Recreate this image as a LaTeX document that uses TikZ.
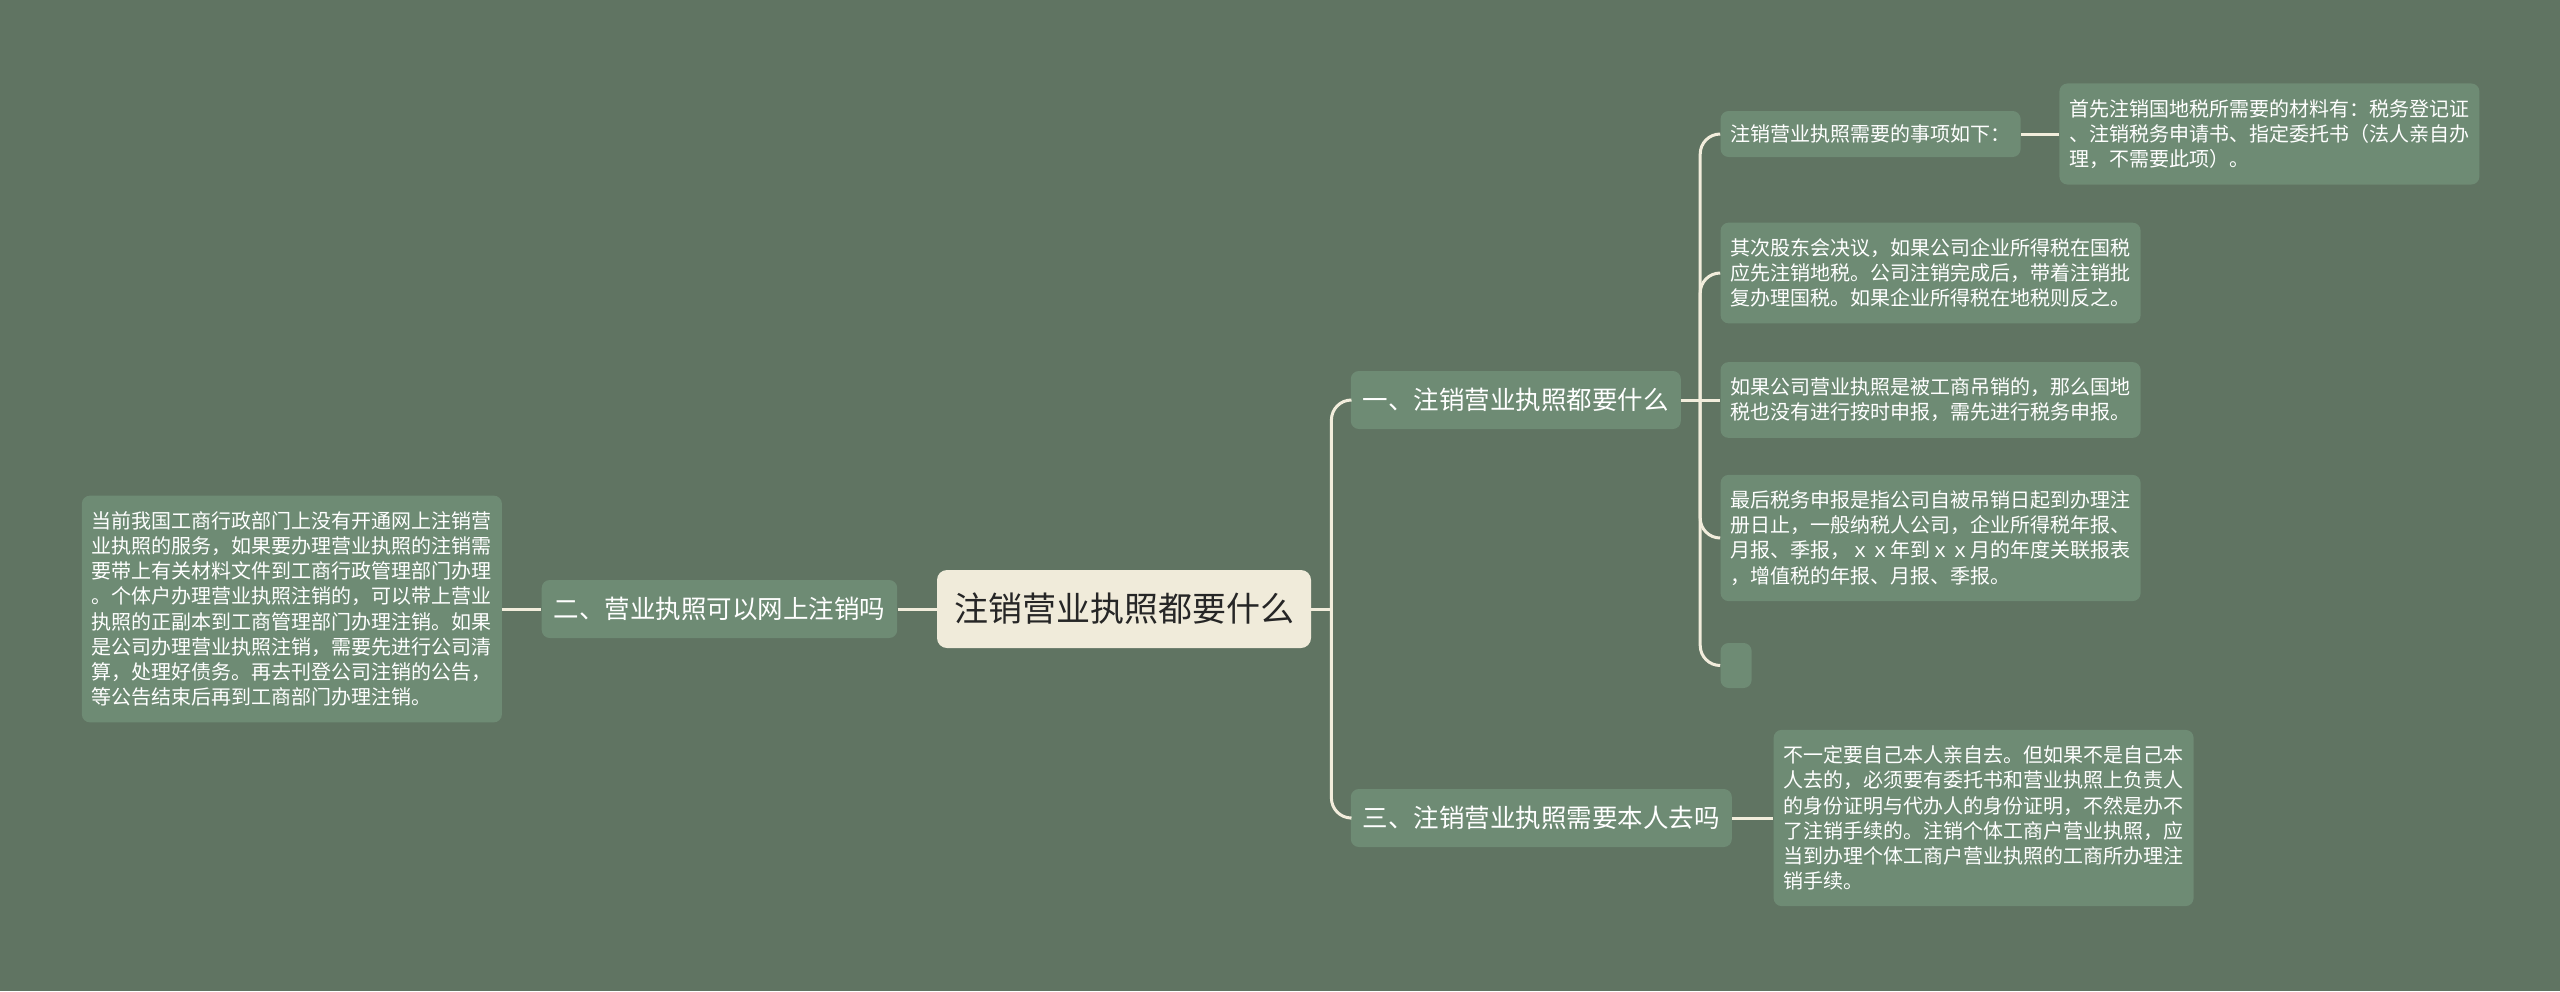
\documentclass[tikz,border=0pt]{standalone}
\usepackage{fontspec}
\setmainfont{Noto Sans CJK SC}
\usetikzlibrary{positioning}
\usepackage{xcolor}
\definecolor{bgcol}{HTML}{607462}
\definecolor{nodecol}{HTML}{6E8B74}
\definecolor{rootcol}{HTML}{F0EBDA}
\definecolor{linecol}{HTML}{F2EDDC}

\begin{document}
\begin{tikzpicture}[
    node distance=19.5pt,
    mainbox/.style={rectangle, rounded corners=5pt, fill=rootcol, text=black!85, font=\fontsize{17}{20}\selectfont, minimum width=187pt, minimum height=39pt, inner sep=0pt},
    topic/.style={rectangle, rounded corners=4pt, fill=nodecol, text=white, font=\fontsize{12.75}{15}\selectfont, minimum height=29pt, inner xsep=6pt, inner ysep=0pt},
    note/.style={rectangle, rounded corners=4pt, fill=nodecol, text=white, font=\fontsize{10}{12.6}\selectfont, align=left, inner xsep=5pt, inner ysep=7.9pt},
    link/.style={draw=linecol, line width=1.5pt, rounded corners=10pt}
]

% background and page size
\fill[bgcol] (0,0) rectangle (1280pt,-495.5pt);
\useasboundingbox (0,0) rectangle (1280pt,-495.5pt);

\node (main) [mainbox] at (562pt,-304.5pt) {注销营业执照都要什么};
\node (two) [topic, left=of main] {二、营业执照可以网上注销吗};
\node (online) [note, left=of two] {当前我国工商行政部门上没有开通网上注销营\\业执照的服务，如果要办理营业执照的注销需\\要带上有关材料文件到工商行政管理部门办理\\。个体户办理营业执照注销的，可以带上营业\\执照的正副本到工商管理部门办理注销。如果\\是公司办理营业执照注销，需要先进行公司清\\算，处理好债务。再去刊登公司注销的公告，\\等公告结束后再到工商部门办理注销。};
\node (one) [topic, right=of main, yshift=104.5pt] {一、注销营业执照都要什么};
\node (three) [topic, right=of main, yshift=-104.5pt] {三、注销营业执照需要本人去吗};
\node (inperson) [note, right=20.5pt of three] {不一定要自己本人亲自去。但如果不是自己本\\人去的，必须要有委托书和营业执照上负责人\\的身份证明与代办人的身份证明，不然是办不\\了注销手续的。注销个体工商户营业执照，应\\当到办理个体工商户营业执照的工商所办理注\\销手续。};

\node (need) [note, right=of one, yshift=133pt, minimum height=23pt, inner ysep=0pt] {注销营业执照需要的事项如下：};
\node (needdetail) [note, right=19pt of need] {首先注销国地税所需要的材料有：税务登记证\\、注销税务申请书、指定委托书（法人亲自办\\理，不需要此项）。};
\node (resolve) [note, right=of one, yshift=63.5pt] {其次股东会决议，如果公司企业所得税在国税\\应先注销地税。公司注销完成后，带着注销批\\复办理国税。如果企业所得税在地税则反之。};
\node (revoked) [note, right=of one] {如果公司营业执照是被工商吊销的，那么国地\\税也没有进行按时申报，需先进行税务申报。};
\node (finaltax) [note, right=of one, yshift=-69pt] {最后税务申报是指公司自被吊销日起到办理注\\册日止，一般纳税人公司，企业所得税年报、\\月报、季报，ｘｘ年到ｘｘ月的年度关联报表\\，增值税的年报、月报、季报。};
\node (blank) [note, right=of one, yshift=-132.75pt, minimum width=15.5pt, minimum height=22.5pt, inner sep=0pt] {};

% Connectors
\coordinate (mainfork) at ([xshift=10pt]main.east);
\coordinate (onefork) at ([xshift=9.5pt]one.east);
\draw[link] (online) -- (two);
\draw[link] (two) -- (main);
\draw[link] (main.east) -- (mainfork);
\draw[link] (mainfork) |- (one.west);
\draw[link] (mainfork) |- (three.west);
\draw[link] (three) -- (inperson);
\draw[link] (one.east) -- (onefork);
\draw[link] (onefork) |- (need.west);
\draw[link] (onefork) |- (resolve.west);
\draw[link] (onefork) -- (revoked.west);
\draw[link] (onefork) |- (finaltax.west);
\draw[link] (onefork) |- (blank.west);
\draw[link] (need) -- (needdetail);

\end{tikzpicture}
\end{document}
